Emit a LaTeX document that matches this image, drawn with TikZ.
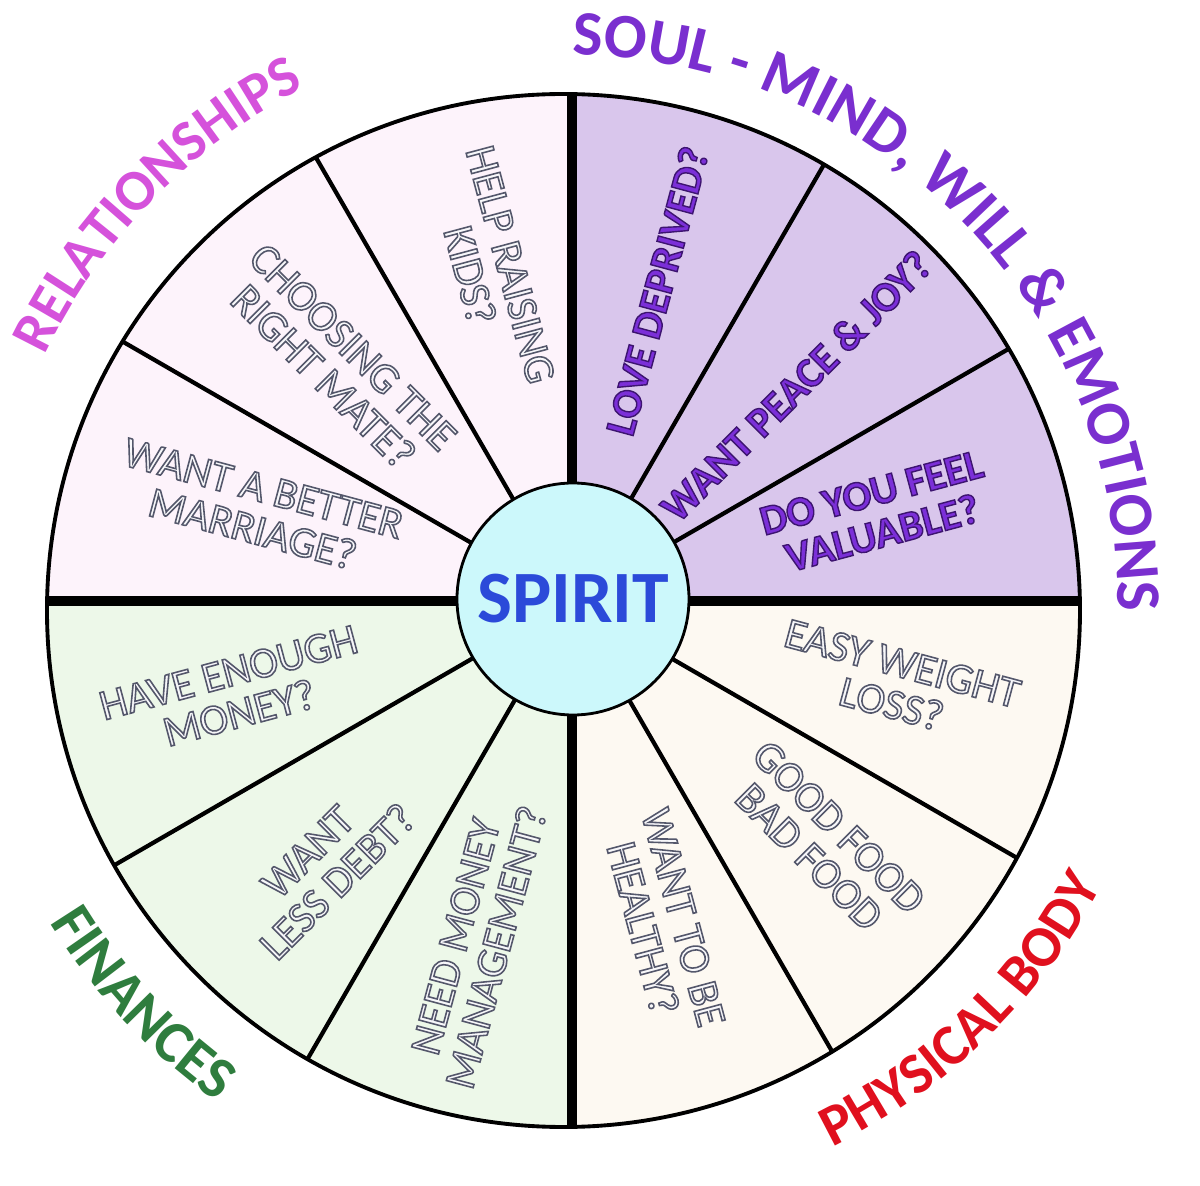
\documentclass[tikz,border=0pt]{standalone}
\usepackage{fontspec}
\setmainfont{Carlito}
\usetikzlibrary{decorations.text}
\definecolor{rose}{HTML}{FDF3FB}
\definecolor{lilac}{HTML}{D9C6EC}
\definecolor{cream}{HTML}{FDF9F2}
\definecolor{mint}{HTML}{EDF8E9}
\definecolor{sky}{HTML}{CCF8FB}
\definecolor{spiritblue}{HTML}{2B4AD9}
\definecolor{grape}{HTML}{7B2FD8}
\definecolor{pearl}{HTML}{F7F7FA}
\definecolor{orchid}{HTML}{D552DB}
\definecolor{violet}{HTML}{7A2FCF}
\definecolor{scarlet}{HTML}{E0101E}
\definecolor{forest}{HTML}{2F7D3E}
% outlined text: fill + stroke render mode
\newcommand\gline[1]{\special{pdf:literal direct 2 Tr 0.45 w 0.33 0.34 0.42 RG}#1\special{pdf:literal direct 0 Tr}}
\newcommand\pline[1]{\special{pdf:literal direct 2 Tr 0.4 w 0.24 0.08 0.44 RG}#1\special{pdf:literal direct 0 Tr}}
\tikzset{ask/.style={align=center,font=\fontsize{12.3}{12}\selectfont,text=pearl,inner sep=0pt},soulask/.style={ask,text=grape,font=\bfseries\fontsize{12}{12}\selectfont},spoke/.style={line width=1.2pt},axis/.style={line width=2.7pt},hubdisc/.style={circle,draw,line width=0.8pt,fill=sky,minimum size=2.32cm,inner sep=0pt,text=spiritblue,font=\bfseries\fontsize{21}{24}\selectfont},arch/.style={decorate,decoration={text along path,text align={fit to path},text color=#1}}}

\begin{document}
\begin{tikzpicture}
\path[use as bounding box,fill=white] (-5.68,-5.81) rectangle (6.32,6.05);
\coordinate (hub) at (0.04,0.04);
\coordinate (rimc) at (-0.045,-0.055);
% quadrants and spokes
\begin{scope}
\clip (rimc) circle (5.165);
\fill[rose] (hub) rectangle (-6,6);
\fill[lilac] (hub) rectangle (6,6);
\fill[cream] (hub) rectangle (6,-6);
\fill[mint] (hub) rectangle (-6,-6);
\foreach \a in {30,60,120,150,210,240,300,330} \draw[spoke] (hub) -- ++(\a:6);
\foreach \a in {0,90,180,270} \draw[axis] (hub) -- ++(\a:6);
\end{scope}
\draw[line width=1.1pt] (rimc) circle (5.165);
\node[hubdisc] (spirit) at (0.05,0.06) {SPIRIT};
% questions
\node[ask,rotate=-15] (marriage) at (-3.10,0.96) {\gline{WANT A BETTER}\\\gline{MARRIAGE?}};
\node[ask,rotate=-45] (mate) at (-2.30,2.43) {\gline{CHOOSING THE}\\\gline{RIGHT MATE?}};
\node[ask,rotate=-75] (kids) at (-0.78,3.35) {\gline{HELP RAISING}\\\gline{KIDS?}};
\node[soulask,rotate=75] (love) at (0.89,3.14) {\pline{LOVE DEPRIVED?}};
\node[soulask,rotate=45] (peace) at (2.28,2.19) {\pline{WANT PEACE \& JOY?}};
\node[soulask,rotate=15] (valuable) at (3.09,0.92) {\pline{DO YOU FEEL}\\\pline{VALUABLE?}};
\node[ask,rotate=-15] (weight) at (3.29,-0.79) {\gline{EASY WEIGHT}\\\gline{LOSS?}};
\node[ask,rotate=-45] (food) at (2.56,-2.37) {\gline{GOOD FOOD}\\\gline{BAD FOOD}};
\node[ask,rotate=-75] (healthy) at (0.95,-3.18) {\gline{WANT TO BE}\\\gline{HEALTHY?}};
\node[ask,rotate=75] (manage) at (-0.92,-3.37) {\gline{NEED MONEY}\\\gline{MANAGEMENT?}};
\node[ask,rotate=45] (debt) at (-2.45,-2.62) {\gline{WANT}\\\gline{LESS DEBT?}};
\node[ask,rotate=15] (money) at (-3.34,-0.88) {\gline{HAVE ENOUGH}\\\gline{MONEY?}};
% area titles
\path[arch=orchid,decoration={text={|\bfseries\fontsize{16.5}{18}\selectfont|RELATIONSHIPS}}] (154.5:5.8) arc[start angle=154.5,end angle=117.5,radius=5.8];
\path[arch=violet,decoration={text={|\bfseries\fontsize{18}{20}\selectfont|SOUL - MIND, WILL {\&} EMOTIONS}}] (89.5:5.5) arc[start angle=89.5,end angle=0,radius=5.5];
\path[arch=scarlet,decoration={text={|\bfseries\fontsize{16.5}{18}\selectfont|PHYSICAL BODY}}] (-64:6.03) arc[start angle=-64,end angle=-28.5,radius=6.03];
\path[arch=forest,decoration={text={|\bfseries\fontsize{17}{19}\selectfont|FINANCES}}] (211.5:6.08) arc[start angle=211.5,end angle=234.5,radius=6.08];
\end{tikzpicture}
\end{document}
